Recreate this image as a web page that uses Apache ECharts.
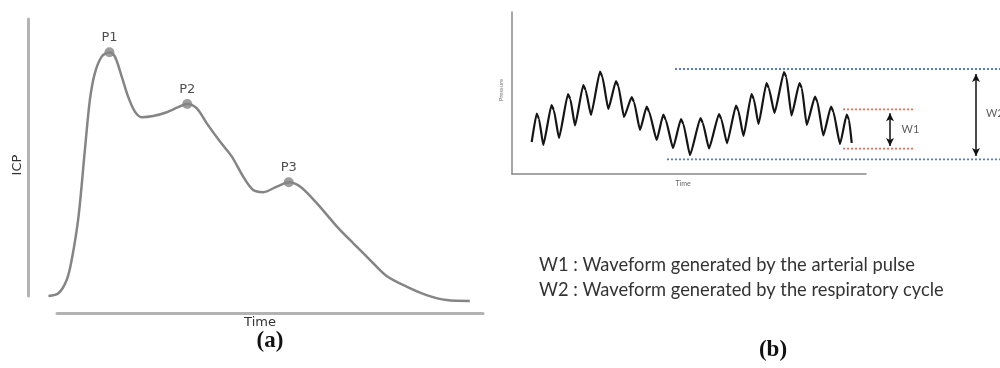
<!DOCTYPE html>
<html>
<head>
<meta charset="utf-8">
<script src="https://cdn.jsdelivr.net/npm/echarts@6/dist/echarts.min.js"></script>
<style>
  html, body { margin: 0; padding: 0; background: #fff; }
  #chart { width: 1000px; height: 368px; }
</style>
</head>
<body>
<div id="chart"></div>
<script>
// (a) ICP 波形
const icpTime = [4.5, 6.7, 8.5, 9.6, 11.1, 12.5, 13.6, 14.7, 16.2, 17.9, 19.1, 20.6, 22.0, 23.5, 25.0, 27.5, 30.5, 33.0, 35.0, 37.1, 39.3, 42.2, 44.8, 47.3, 49.5, 51.7, 54.7, 57.3, 59.8, 63.5, 67.9, 71.5, 75.2, 78.8, 83.2, 87.6, 92.0, 97.1]
const icpValue = [5.8, 6.7, 11.2, 18.0, 32.8, 55.4, 72.5, 81.6, 87.2, 88.7, 87.2, 80.4, 73.6, 68.5, 66.6, 67.0, 68.3, 70.0, 71.1, 69.6, 64.5, 58.3, 53.2, 46.4, 41.8, 41.1, 43.0, 44.5, 43.0, 37.3, 29.4, 23.7, 18.0, 12.6, 9.0, 6.1, 4.4, 4.1]
const peakNames = ['P1', 'P2', 'P3']
const peakTime = [17.9, 35.0, 57.3]
const peakValue = [88.7, 71.1, 44.5]

// (b) 压力波形: 每个脉搏 = 峰, 切迹, 谷
const waveTime = [19.7, 24.7, 27, 31.3, 39.5, 41.8, 47, 56, 58.3, 63, 71.3, 73.6, 79, 88, 90.3, 96.3, 104, 106.3, 112, 119.7, 122, 128, 134.7, 137, 144.7, 151.3, 153.6, 161, 169, 171.3, 178, 188.5, 190.8, 197, 207, 209.3, 215, 224, 226.3, 231.5, 239.5, 241.8, 246.5, 254.5, 256.8, 262.5, 272, 274.3, 279.5, 287.5, 289.8, 294.7, 303, 305.3, 311.3, 319, 321.3, 328, 334.7, 337, 339.7]
const wavePressure = [32, 60.5, 55, 29, 69, 64, 36, 80, 75, 48.5, 89, 84, 59, 102.3, 97.3, 65, 93, 88, 57, 77, 72, 44, 67.5, 62.5, 34, 59.5, 54.5, 26, 55, 50, 19, 56, 51, 25.5, 60, 55, 30.7, 68.5, 63.5, 38, 80, 75, 50, 91, 86, 61, 102, 97, 58.5, 91, 86, 49, 77.3, 72.3, 38.5, 67.5, 62.5, 30, 59.3, 54.3, 31]
// W2 范围 (蓝) / W1 范围 (红)
const w2Start = [163, 155]
const w2Level = [105, 14.7]
const w1Range = [331, 402]
const w1Level = [64.7, 25.3]
const bandEnd = 488
const arrowW1 = [378, 60.7, 28]
const arrowW2 = [464, 100, 18]
const wLabels = [{ name: 'W1', value: [398.5, 45] }, { name: 'W2', value: [483, 60.7] }]
const notes = ['W1 : Waveform generated by the arterial pulse', 'W2 : Waveform generated by the respiratory cycle']

const pairs = (xs, ys) => xs.map((x, i) => [x, ys[i]])

const hiddenAxis = (grid, min, max) => ({
  type: 'value', gridIndex: grid, min: min, max: max, show: false
})

const dotted = (x0, x1, y, color) => ({
  type: 'line',
  xAxisIndex: 4,
  yAxisIndex: 4,
  data: [[x0, y], [x1, y]],
  showSymbol: false,
  silent: true,
  lineStyle: { color: color, width: 1.8, type: [2, 2] }
})

const myChart = echarts.init(document.getElementById('chart'))
myChart.setOption({
  animation: false,
  grid: [
    // 0: (a) 曲线
    { left: 28, top: 19, width: 455, height: 294 },
    // 1: (a) 纵轴线
    { left: 28, top: 19, width: 455, height: 277 },
    // 2: (a) 横轴线
    { left: 57, top: 19, width: 426, height: 294 },
    // 3: (b) 坐标轴
    { left: 512, top: 12, width: 354, height: 162 },
    // 4: (b) 数据
    { left: 512, top: 12, width: 488, height: 162 }
  ],
  xAxis: [
    hiddenAxis(0, 0, 100),
    hiddenAxis(1, 0, 100),
    {
      type: 'value', gridIndex: 2, min: 0, max: 100,
      name: 'Time', nameLocation: 'middle', nameGap: 3,
      nameTextStyle: { fontFamily: 'DejaVu Sans', fontSize: 13, color: '#333', padding: [0, 20, 0, 0] },
      axisLine: { show: true, lineStyle: { color: '#b3b3b3', width: 3 } },
      axisTick: { show: false }, axisLabel: { show: false }, splitLine: { show: false }
    },
    {
      type: 'value', gridIndex: 3, min: 0, max: 100,
      name: 'Time', nameLocation: 'middle', nameGap: 6,
      nameTextStyle: { fontFamily: 'Lato', fontSize: 7, color: '#666', padding: [0, 12, 0, 0] },
      axisLine: { show: true, lineStyle: { color: '#888', width: 1.5 } },
      axisTick: { show: false }, axisLabel: { show: false }, splitLine: { show: false }
    },
    hiddenAxis(4, 0, 488)
  ],
  yAxis: [
    hiddenAxis(0, 0, 100),
    {
      type: 'value', gridIndex: 1, min: 0, max: 100,
      name: 'ICP', nameLocation: 'middle', nameGap: 4,
      nameTextStyle: { fontFamily: 'DejaVu Sans', fontSize: 13, color: '#333', padding: [0, 15, 0, 0] },
      axisLine: { show: true, lineStyle: { color: '#b3b3b3', width: 3 } },
      axisTick: { show: false }, axisLabel: { show: false }, splitLine: { show: false }
    },
    hiddenAxis(2, 0, 100),
    {
      type: 'value', gridIndex: 3, min: 0, max: 100,
      name: 'Pressure', nameLocation: 'middle', nameGap: 8,
      nameTextStyle: { fontFamily: 'Lato', fontSize: 6, color: '#777', padding: [0, 0, 0, 6] },
      axisLine: { show: true, lineStyle: { color: '#888', width: 1.5 } },
      axisTick: { show: false }, axisLabel: { show: false }, splitLine: { show: false }
    },
    hiddenAxis(4, 0, 162)
  ],
  series: [
    {
      name: 'ICP',
      type: 'line',
      xAxisIndex: 0,
      yAxisIndex: 0,
      data: pairs(icpTime, icpValue),
      smooth: 0.3,
      showSymbol: false,
      lineStyle: { color: '#858585', width: 2.5 }
    },
    {
      name: 'peaks',
      type: 'scatter',
      xAxisIndex: 0,
      yAxisIndex: 0,
      symbolSize: 10,
      itemStyle: { color: '#858585' },
      label: {
        show: true,
        position: 'top',
        distance: 3,
        formatter: p => p.name,
        fontFamily: 'DejaVu Sans',
        fontSize: 13,
        color: '#222'
      },
      data: peakNames.map((n, i) => ({ name: n, value: [peakTime[i], peakValue[i]] }))
    },
    {
      name: 'Pressure',
      type: 'line',
      xAxisIndex: 4,
      yAxisIndex: 4,
      data: pairs(waveTime, wavePressure),
      smooth: 0.15,
      smoothMonotone: 'x',
      showSymbol: false,
      lineStyle: { color: '#151515', width: 2.2 }
    },
    dotted(w2Start[0], bandEnd, w2Level[0], '#5b7ec2'),
    dotted(w2Start[1], bandEnd, w2Level[1], '#5b7ec2'),
    dotted(w1Range[0], w1Range[1], w1Level[0], '#e0735a'),
    dotted(w1Range[0], w1Range[1], w1Level[1], '#e0735a'),
    {
      name: 'arrows',
      type: 'scatter',
      xAxisIndex: 4,
      yAxisIndex: 4,
      symbolSize: 0,
      silent: true,
      label: {
        show: true,
        position: 'inside',
        formatter: p => p.name,
        fontFamily: 'Lato',
        fontSize: 11,
        color: '#333'
      },
      data: wLabels,
      markLine: {
        silent: true,
        symbol: ['arrow', 'arrow'],
        symbolSize: [6, 8],
        label: { show: false },
        lineStyle: { color: '#111', width: 1.5, type: 'solid' },
        data: [
          [{ coord: [arrowW1[0], arrowW1[1]] }, { coord: [arrowW1[0], arrowW1[2]] }],
          [{ coord: [arrowW2[0], arrowW2[1]] }, { coord: [arrowW2[0], arrowW2[2]] }]
        ]
      }
    }
  ],
  graphic: [
    {
      type: 'text', x: 539, y: 265,
      style: { text: notes[0], font: '18.3px Lato', fill: '#333', verticalAlign: 'middle' }
    },
    {
      type: 'text', x: 539, y: 290,
      style: { text: notes[1], font: '18.3px Lato', fill: '#333', verticalAlign: 'middle' }
    },
    {
      type: 'text', x: 270, y: 341,
      style: { text: '(a)', font: 'bold 23px "Liberation Serif"', fill: '#111', align: 'center', verticalAlign: 'middle' }
    },
    {
      type: 'text', x: 773, y: 350,
      style: { text: '(b)', font: 'bold 23px "Liberation Serif"', fill: '#111', align: 'center', verticalAlign: 'middle' }
    }
  ]
})
</script>
</body>
</html>
